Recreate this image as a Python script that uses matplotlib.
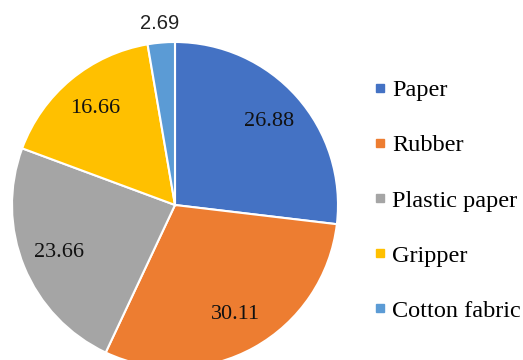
import numpy as np
import matplotlib.pyplot as plt
from matplotlib.lines import Line2D

categories = ['Paper', 'Rubber', 'Plastic paper', 'Gripper', 'Cotton fabric']
values = [26.88, 30.11, 23.66, 16.66, 2.69]
value_labels = ['26.88', '30.11', '23.66', '16.66', '2.69']
colors = ['#4472C4', '#ED7D31', '#A5A5A5', '#FFC000', '#5B9BD5']

fig = plt.figure(figsize=(5.23, 3.6), dpi=100)
ax = fig.add_axes([12 / 523, -8 / 360, 326 / 523, 326 / 360])

wedges, _ = ax.pie(values, colors=colors, startangle=90, counterclock=False,
                   radius=1.0,
                   wedgeprops=dict(edgecolor='white', linewidth=1.5))
ax.set_xlim(-1, 1)
ax.set_ylim(-1, 1)
ax.set_aspect('equal')
ax.axis('off')

# value labels: inside for big slices, outside for the small one
for w, lab, v in zip(wedges, value_labels, values):
    mid = np.deg2rad((w.theta1 + w.theta2) / 2)
    if v < 5:
        r = 1.12
        ax.text(r * np.cos(mid), r * np.sin(mid), lab, ha='center', va='center',
                fontsize=14.5, family='Liberation Sans', color='#222222')
    else:
        r = 0.77
        ax.text(r * np.cos(mid), r * np.sin(mid), lab, ha='center', va='center',
                fontsize=16, family='Liberation Serif', color='#111111')

handles = [Line2D([0], [0], marker='s', linestyle='none', markersize=6,
                  markerfacecolor=c, markeredgecolor=c) for c in colors]
leg = fig.legend(handles, categories, loc='center left',
                 bbox_to_anchor=(374 / 523, 0.443), frameon=False,
                 prop={'family': 'Liberation Serif', 'size': 17.5},
                 handlelength=0.5, handletextpad=0.25, labelspacing=1.36,
                 borderaxespad=0, borderpad=0)

fig.savefig('out.png', dpi=100)
